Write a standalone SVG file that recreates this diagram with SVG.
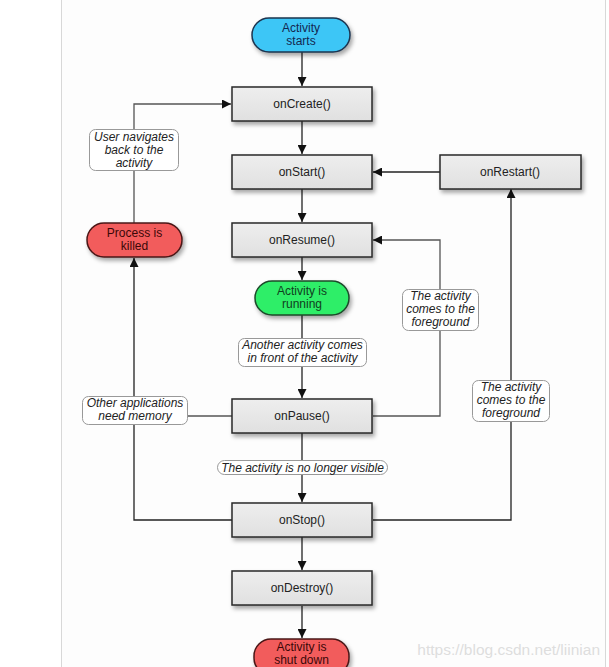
<svg xmlns="http://www.w3.org/2000/svg" width="609" height="667" viewBox="0 0 609 667">
<defs>
<filter id="sh" x="-20%" y="-30%" width="150%" height="180%">
<feDropShadow dx="2" dy="3" stdDeviation="2" flood-color="#000" flood-opacity="0.35"/>
</filter>
<linearGradient id="boxg" x1="0" y1="0" x2="0" y2="1">
<stop offset="0" stop-color="#eeeeee"/>
<stop offset="1" stop-color="#e0e0e0"/>
</linearGradient>
<marker id="ah" viewBox="0 0 10 10" refX="10" refY="5" markerWidth="9" markerHeight="9" markerUnits="userSpaceOnUse" orient="auto">
<path d="M0,0 L10,5 L0,10 z" fill="#111"/>
</marker>
</defs>
<style>
.box{fill:url(#boxg);stroke:#2a2a2a;stroke-width:1.5;filter:url(#sh)}
.t{font-family:"Liberation Sans",Arial,sans-serif;font-size:12px;text-anchor:middle;fill:#222}
.lbl{fill:#fff;stroke:#999;stroke-width:1}
.li{font-family:"Liberation Sans",Arial,sans-serif;font-size:12px;font-style:italic;text-anchor:middle;fill:#222}
.c{fill:none;stroke:#222;stroke-width:1.3}
.cg{fill:none;stroke:#555;stroke-width:1.3}
</style>
<rect x="0" y="0" width="609" height="667" fill="#fff"/>
<rect x="61" y="0" width="544" height="667" fill="#fdfdfd"/>
<line x1="61.5" y1="0" x2="61.5" y2="667" stroke="#d8d8d8" stroke-width="1"/>
<line x1="605.5" y1="0" x2="605.5" y2="667" stroke="#d8d8d8" stroke-width="1"/>

<g id="connectors">
<line class="c" x1="302" y1="52" x2="302" y2="86" marker-end="url(#ah)"/>
<line class="c" x1="302" y1="121" x2="302" y2="154" marker-end="url(#ah)"/>
<line class="c" x1="302" y1="189" x2="302" y2="222" marker-end="url(#ah)"/>
<line class="c" x1="302" y1="257" x2="302" y2="280" marker-end="url(#ah)"/>
<line class="c" x1="302" y1="315" x2="302" y2="398" marker-end="url(#ah)"/>
<line class="c" x1="302" y1="433" x2="302" y2="502" marker-end="url(#ah)"/>
<line class="c" x1="302" y1="537" x2="302" y2="570" marker-end="url(#ah)"/>
<line class="c" x1="302" y1="606" x2="302" y2="638" marker-end="url(#ah)"/>
<line class="c" x1="440" y1="172" x2="373" y2="172" marker-end="url(#ah)"/>
<polyline class="cg" points="373,416 440,416 440,240 373,240" marker-end="url(#ah)"/>
<polyline class="c" points="373,520 511,520 511,189" marker-end="url(#ah)"/>
<polyline class="c" points="232,520 134,520 134,258" marker-end="url(#ah)"/>
<line class="cg" x1="232" y1="416" x2="134" y2="416"/>
<polyline class="cg" points="134,223 134,104 231,104" marker-end="url(#ah)"/>
</g>

<g id="activity-starts">
<rect x="252" y="18" width="98" height="34" rx="17" fill="#3ec6f6" stroke="#1d3550" stroke-width="1.5" filter="url(#sh)"/>
<text class="t" x="301" y="32" style="fill:#142850">Activity</text>
<text class="t" x="301" y="45" style="fill:#142850">starts</text>
</g>
<g id="onCreate">
<rect class="box" x="232" y="87" width="140" height="34"/>
<text class="t" x="302" y="108">onCreate()</text>
</g>
<g id="onStart">
<rect class="box" x="232" y="155" width="140" height="34"/>
<text class="t" x="302" y="176">onStart()</text>
</g>
<g id="onRestart">
<rect class="box" x="440" y="155" width="141" height="34"/>
<text class="t" x="510" y="176">onRestart()</text>
</g>
<g id="onResume">
<rect class="box" x="232" y="223" width="140" height="34"/>
<text class="t" x="302" y="244">onResume()</text>
</g>
<g id="activity-running">
<rect x="255" y="281" width="94" height="34" rx="17" fill="#2eee68" stroke="#1c4a2a" stroke-width="1.5" filter="url(#sh)"/>
<text class="t" x="302" y="295" style="fill:#10401e">Activity is</text>
<text class="t" x="302" y="308" style="fill:#10401e">running</text>
</g>
<g id="process-killed">
<rect x="87" y="223" width="95" height="34" rx="17" fill="#f25b5b" stroke="#4a1818" stroke-width="1.5" filter="url(#sh)"/>
<text class="t" x="134.5" y="237" style="fill:#3a0808">Process is</text>
<text class="t" x="134.5" y="250" style="fill:#3a0808">killed</text>
</g>
<g id="onPause">
<rect class="box" x="232" y="399" width="140" height="34"/>
<text class="t" x="302" y="420">onPause()</text>
</g>
<g id="onStop">
<rect class="box" x="232" y="503" width="140" height="34"/>
<text class="t" x="302" y="524">onStop()</text>
</g>
<g id="onDestroy">
<rect class="box" x="232" y="571" width="140" height="34"/>
<text class="t" x="302" y="592">onDestroy()</text>
</g>
<g id="activity-shut-down">
<rect x="254" y="639" width="95" height="36" rx="17" fill="#f25b5b" stroke="#4a1818" stroke-width="1.5" filter="url(#sh)"/>
<text class="t" x="301.5" y="651" style="fill:#3a0808">Activity is</text>
<text class="t" x="301.5" y="664" style="fill:#3a0808">shut down</text>
</g>

<g id="label-user-navigates">
<rect class="lbl" x="89.5" y="129.5" width="89" height="41" rx="6"/>
<text class="li" x="134" y="141">User navigates</text>
<text class="li" x="134" y="154">back to the</text>
<text class="li" x="134" y="167">activity</text>
</g>
<g id="label-foreground-1">
<rect class="lbl" x="402.5" y="289.5" width="76" height="41" rx="6"/>
<text class="li" x="440.5" y="300">The activity</text>
<text class="li" x="440.5" y="313">comes to the</text>
<text class="li" x="440.5" y="326">foreground</text>
</g>
<g id="label-another-activity">
<rect class="lbl" x="238.5" y="338.5" width="128" height="28" rx="6"/>
<text class="li" x="302.5" y="349">Another activity comes</text>
<text class="li" x="302.5" y="362">in front of the activity</text>
</g>
<g id="label-foreground-2">
<rect class="lbl" x="472.5" y="380.5" width="77" height="41" rx="6"/>
<text class="li" x="511" y="391">The activity</text>
<text class="li" x="511" y="404">comes to the</text>
<text class="li" x="511" y="417">foreground</text>
</g>
<g id="label-other-apps">
<rect class="lbl" x="82.5" y="396.5" width="105" height="28" rx="6"/>
<text class="li" x="135" y="407">Other applications</text>
<text class="li" x="135" y="420">need memory</text>
</g>
<g id="label-no-longer-visible">
<rect class="lbl" x="217.5" y="460.5" width="170" height="14" rx="7"/>
<text class="li" x="302.5" y="472">The activity is no longer visible</text>
</g>
<text x="600" y="655" font-family="Liberation Sans,Arial,sans-serif" font-size="15.5" fill="#dedede" text-anchor="end">https://blog.csdn.net/liinian</text>
</svg>
